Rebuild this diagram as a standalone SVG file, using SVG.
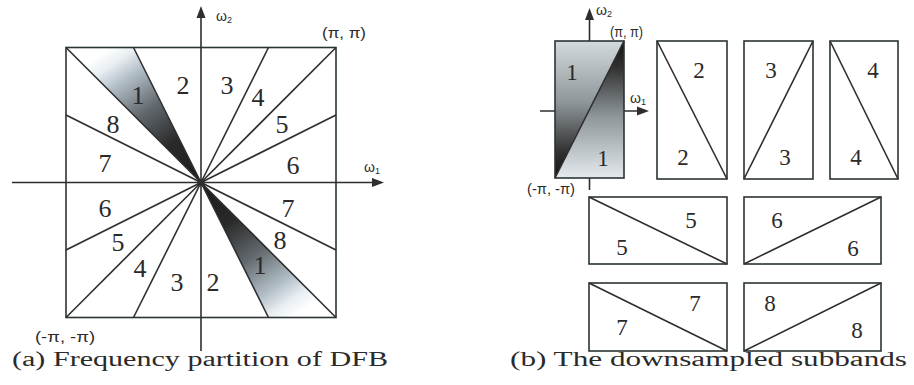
<svg xmlns="http://www.w3.org/2000/svg" width="914" height="385" viewBox="0 0 914 385">
<style>
.ln{stroke:#2e2e2e;stroke-width:1.6;fill:none}
.bx{stroke:#2a3434;stroke-width:1.6;fill:none}
.dg{font-family:"Liberation Serif","Times New Roman",serif;font-size:26px;fill:#2a2a2a;text-anchor:middle}
.dr{font-family:"Liberation Serif","Times New Roman",serif;font-size:23px;fill:#2a2a2a;text-anchor:middle}
.sm{font-family:"Liberation Sans",Arial,sans-serif;font-size:14px;fill:#2a2a2a}
.cap{font-family:"Liberation Serif","Times New Roman",serif;font-size:20px;fill:#2a2a2a}
.ar{fill:#2e2e2e}
</style>
<defs>
<linearGradient id="gUp" gradientUnits="userSpaceOnUse" x1="201" y1="182.5" x2="108" y2="48">
<stop offset="0" stop-color="#1a1a1a"/><stop offset="0.3" stop-color="#2a2a2a"/><stop offset="0.55" stop-color="#62696e"/><stop offset="0.78" stop-color="#b2bec6"/><stop offset="0.9" stop-color="#e8eef2"/><stop offset="1" stop-color="#ffffff"/>
</linearGradient>
<linearGradient id="gDn" gradientUnits="userSpaceOnUse" x1="201" y1="182.5" x2="294" y2="317.5">
<stop offset="0" stop-color="#1a1a1a"/><stop offset="0.3" stop-color="#2a2a2a"/><stop offset="0.55" stop-color="#62696e"/><stop offset="0.78" stop-color="#b2bec6"/><stop offset="0.9" stop-color="#e8eef2"/><stop offset="1" stop-color="#ffffff"/>
</linearGradient>
<linearGradient id="gB1u" gradientUnits="userSpaceOnUse" x1="0" y1="41" x2="0" y2="178">
<stop offset="0" stop-color="#d3dade"/><stop offset="0.45" stop-color="#8e969a"/><stop offset="0.8" stop-color="#333"/><stop offset="1" stop-color="#111"/>
</linearGradient>
<linearGradient id="gB1d" gradientUnits="userSpaceOnUse" x1="0" y1="41" x2="0" y2="178">
<stop offset="0" stop-color="#111"/><stop offset="0.2" stop-color="#333"/><stop offset="0.55" stop-color="#8e969a"/><stop offset="1" stop-color="#e4eaee"/>
</linearGradient>
</defs>

<g id="fig-a">
<g id="wedge-1-upper"><polygon points="201,182.5 66,47.5 133.5,47.5" fill="url(#gUp)"/></g>
<g id="wedge-1-lower"><polygon points="201,182.5 336,317.5 268.5,317.5" fill="url(#gDn)"/></g>
<g id="square-a"><rect x="66" y="47.5" width="270" height="270" class="bx"/></g>
<g id="connectors-a">
<line class="ln" x1="201" y1="182.5" x2="66" y2="47.5"/>
<line class="ln" x1="201" y1="182.5" x2="336" y2="47.5"/>
<line class="ln" x1="201" y1="182.5" x2="66" y2="317.5"/>
<line class="ln" x1="201" y1="182.5" x2="336" y2="317.5"/>
<line class="ln" x1="201" y1="182.5" x2="133.5" y2="47.5"/>
<line class="ln" x1="201" y1="182.5" x2="268.5" y2="47.5"/>
<line class="ln" x1="201" y1="182.5" x2="133.5" y2="317.5"/>
<line class="ln" x1="201" y1="182.5" x2="268.5" y2="317.5"/>
<line class="ln" x1="201" y1="182.5" x2="66" y2="115"/>
<line class="ln" x1="201" y1="182.5" x2="336" y2="115"/>
<line class="ln" x1="201" y1="182.5" x2="66" y2="250"/>
<line class="ln" x1="201" y1="182.5" x2="336" y2="250"/>
<line class="ln" x1="201" y1="351" x2="201" y2="16"/>
<line class="ln" x1="12" y1="182.5" x2="373" y2="182.5"/>
<polygon class="ar" points="201,6 196.5,18 205.5,18"/>
<polygon class="ar" points="384,182.5 372,178 372,187"/>
<circle cx="201" cy="182.5" r="3.5" fill="#2e2e2e"/>
</g>
<g id="labels-a">
<text class="dg" x="138" y="104">1</text>
<text class="dg" x="183" y="94">2</text>
<text class="dg" x="227" y="94">3</text>
<text class="dg" x="258" y="106">4</text>
<text class="dg" x="282" y="133">5</text>
<text class="dg" x="293" y="174">6</text>
<text class="dg" x="105" y="172">7</text>
<text class="dg" x="113" y="133">8</text>
<text class="dg" x="105" y="217">6</text>
<text class="dg" x="118" y="251">5</text>
<text class="dg" x="140" y="277">4</text>
<text class="dg" x="177" y="291">3</text>
<text class="dg" x="213" y="291">2</text>
<text class="dg" x="260" y="274">1</text>
<text class="dg" x="280" y="249">8</text>
<text class="dg" x="288" y="217">7</text>
<text class="sm" x="216" y="21">ω<tspan font-size="9" dy="2">2</tspan></text>
<text class="sm" x="364" y="172">ω<tspan font-size="9" dy="2">1</tspan></text>
<text class="sm" x="322" y="38" textLength="44" lengthAdjust="spacingAndGlyphs">(π, π)</text>
<text class="sm" x="35" y="342" textLength="60" lengthAdjust="spacingAndGlyphs">(-π, -π)</text>
</g>
<text class="cap" x="12" y="366" textLength="376" lengthAdjust="spacingAndGlyphs">(a) Frequency partition of DFB</text>
</g>

<g id="fig-b">
<g id="connectors-b">
<line class="ln" x1="589.5" y1="190" x2="589.5" y2="19"/>
<line class="ln" x1="540" y1="111" x2="638" y2="111"/>
<polygon class="ar" points="589.5,8 585,20 594,20"/>
<polygon class="ar" points="649,111 637,106.5 637,115.5"/>
</g>
<g id="box-1">
<polygon points="555,41 624,41 555,178" fill="url(#gB1u)"/>
<polygon points="624,41 624,178 555,178" fill="url(#gB1d)"/>
<rect class="bx" x="555" y="41" width="69" height="137"/>
<line class="ln" x1="555" y1="178" x2="624" y2="41"/>
<text class="dr" x="572" y="80">1</text>
<text class="dr" x="603" y="166">1</text>
</g>
<g id="box-2">
<rect class="bx" x="657" y="41" width="70" height="138"/>
<line class="ln" x1="657" y1="41" x2="727" y2="179"/>
<text class="dr" x="699" y="78">2</text>
<text class="dr" x="683" y="165">2</text>
</g>
<g id="box-3">
<rect class="bx" x="744" y="41" width="69" height="138"/>
<line class="ln" x1="744" y1="179" x2="813" y2="41"/>
<text class="dr" x="771" y="78">3</text>
<text class="dr" x="785" y="165">3</text>
</g>
<g id="box-4">
<rect class="bx" x="830" y="41" width="68" height="138"/>
<line class="ln" x1="830" y1="41" x2="898" y2="179"/>
<text class="dr" x="873" y="78">4</text>
<text class="dr" x="856" y="165">4</text>
</g>
<g id="box-5">
<rect class="bx" x="589" y="197" width="138" height="67"/>
<line class="ln" x1="589" y1="197" x2="727" y2="264"/>
<text class="dr" x="691" y="228">5</text>
<text class="dr" x="622" y="255">5</text>
</g>
<g id="box-6">
<rect class="bx" x="744" y="197" width="137" height="67"/>
<line class="ln" x1="744" y1="264" x2="881" y2="197"/>
<text class="dr" x="777" y="228">6</text>
<text class="dr" x="853" y="256">6</text>
</g>
<g id="box-7">
<rect class="bx" x="589" y="283" width="138" height="68"/>
<line class="ln" x1="589" y1="283" x2="727" y2="351"/>
<text class="dr" x="695" y="311">7</text>
<text class="dr" x="622" y="335">7</text>
</g>
<g id="box-8">
<rect class="bx" x="744" y="283" width="137" height="68"/>
<line class="ln" x1="744" y1="351" x2="881" y2="283"/>
<text class="dr" x="770" y="311">8</text>
<text class="dr" x="857" y="338">8</text>
</g>
<g id="labels-b">
<text class="sm" x="596" y="15">ω<tspan font-size="9" dy="2">2</tspan></text>
<text class="sm" x="630" y="103">ω<tspan font-size="9" dy="2">1</tspan></text>
<text class="sm" x="610" y="37" textLength="33" lengthAdjust="spacingAndGlyphs">(π, π)</text>
<text class="sm" x="527" y="194" textLength="48" lengthAdjust="spacingAndGlyphs">(-π, -π)</text>
</g>
<text class="cap" x="510" y="366" textLength="397" lengthAdjust="spacingAndGlyphs">(b) The downsampled subbands</text>
</g>
</svg>
